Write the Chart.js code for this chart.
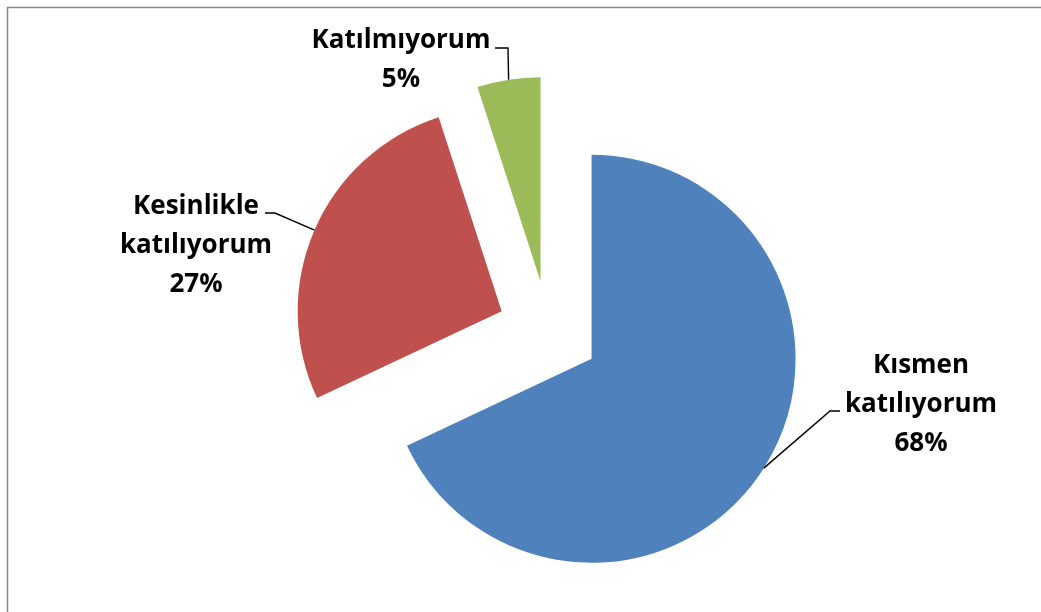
<!DOCTYPE html>
<html>
<head>
<meta charset="utf-8">
<script src="https://cdn.jsdelivr.net/npm/chart.js@4"></script>
<style>
  html, body { margin: 0; padding: 0; background: #fff; }
  #wrap { width: 1041px; height: 612px; }
</style>
</head>
<body>
<div id="wrap"><canvas id="pie" width="1041" height="612"></canvas></div>
<script>
/* Exploded pie - katılım dağılımı */

const categories = ['Kısmen katılıyorum', 'Kesinlikle katılıyorum', 'Katılmıyorum'];
const values = [68, 27, 5];
const labelLines = [
  ['Kısmen', 'katılıyorum', '68%'],
  ['Kesinlikle', 'katılıyorum', '27%'],
  ['Katılmıyorum', '5%'],
];
const colors = ['#4F81BD', '#C0504D', '#9BBB59'];

const EXPLODE = 51;
// label block: center x, first baseline y, elbow of the leader line
const labelLayout = [
  { cx: 921, y0: 373, elbow: [830, 411], end: [840, 411] },
  { cx: 196, y0: 214, elbow: [275, 213], end: [265, 213] },
  { cx: 401, y0: 48, elbow: [508, 48], end: [495, 48] },
];
const LINE_H = 39;

// pie controller that pulls every slice out along its mid angle
class ExplodedPie extends Chart.PieController {
  draw() {
    const ctx = this.chart.ctx;
    const area = this.chart.chartArea;
    this._cachedMeta.data.forEach(arc => {
      const mid = (arc.startAngle + arc.endAngle) / 2;
      ctx.save();
      ctx.translate(Math.cos(mid) * EXPLODE, Math.sin(mid) * EXPLODE);
      arc.draw(ctx, area);
      ctx.restore();
    });
  }
}
ExplodedPie.id = 'explodedPie';
ExplodedPie.defaults = Chart.PieController.defaults;
ExplodedPie.overrides = Chart.PieController.overrides;
Chart.register(ExplodedPie);

const frame = {
  id: 'frame',
  beforeDraw(chart) {
    const ctx = chart.ctx;
    ctx.save();
    ctx.fillStyle = '#fff';
    ctx.fillRect(0, 0, chart.width, chart.height);
    ctx.strokeStyle = '#8a8a8a';
    ctx.lineWidth = 1.5;
    ctx.strokeRect(7.5, 7.5, chart.width + 20, chart.height + 20);
    ctx.restore();
  }
};

const labels = {
  id: 'sliceLabels',
  afterDatasetsDraw(chart) {
    const ctx = chart.ctx;
    const meta = chart.getDatasetMeta(0);
    ctx.save();
    meta.data.forEach((arc, i) => {
      const mid = (arc.startAngle + arc.endAngle) / 2;
      const r = arc.outerRadius + EXPLODE;
      const tip = [arc.x + Math.cos(mid) * r, arc.y + Math.sin(mid) * r];
      const L = labelLayout[i];
      ctx.strokeStyle = '#000';
      ctx.lineWidth = 1.4;
      ctx.beginPath();
      ctx.moveTo(L.end[0], L.end[1]);
      ctx.lineTo(L.elbow[0], L.elbow[1]);
      ctx.lineTo(tip[0], tip[1]);
      ctx.stroke();

      ctx.fillStyle = '#000';
      ctx.font = 'bold 26px "Open Sans", sans-serif';
      ctx.textAlign = 'center';
      ctx.textBaseline = 'alphabetic';
      labelLines[i].forEach((t, k) => ctx.fillText(t, L.cx, L.y0 + k * LINE_H));
    });
    ctx.restore();
  }
};

new Chart(document.getElementById('pie'), {
  type: 'explodedPie',
  data: {
    labels: categories,
    datasets: [{
      data: values,
      backgroundColor: colors,
      borderWidth: 0,
      radius: 204,
    }]
  },
  options: {
    responsive: false,
    animation: false,
    layout: { padding: { left: 100, right: 44, top: 60, bottom: 9 } },
    plugins: {
      legend: { display: false },
      tooltip: { enabled: false },
    }
  },
  plugins: [frame, labels]
});
</script>
</body>
</html>
